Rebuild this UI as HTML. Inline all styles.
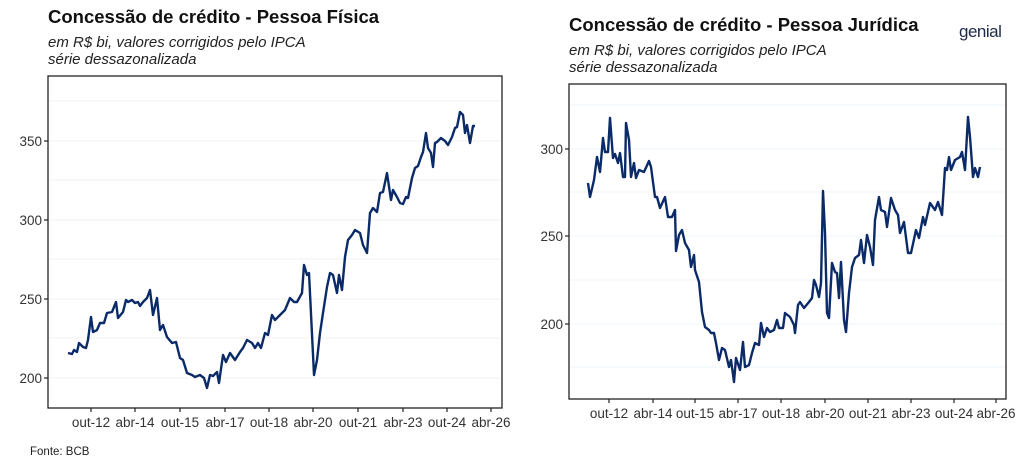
<!DOCTYPE html>
<html><head><meta charset="utf-8"><style>
body{margin:0;background:#fff;width:1024px;height:466px;overflow:hidden;font-family:"Liberation Sans",sans-serif}
svg text{font-family:"Liberation Sans",sans-serif}
</style></head><body>
<svg width="1024" height="466" viewBox="0 0 1024 466" xmlns="http://www.w3.org/2000/svg">
<rect width="1024" height="466" fill="#fff"/>
<!-- LEFT -->
<text x="48" y="23" font-size="18.5" font-weight="bold" fill="#111">Concessão de crédito - Pessoa Física</text>
<text x="48" y="47" font-size="15" font-style="italic" fill="#222">em R$ bi, valores corrigidos pelo IPCA</text>
<text x="48" y="64" font-size="15" font-style="italic" fill="#222">série dessazonalizada</text>
<g stroke="#f0f0f0" stroke-width="1">
<line x1="49" x2="501" y1="101" y2="101"/><line x1="49" x2="501" y1="180" y2="180"/><line x1="49" x2="501" y1="259" y2="259"/><line x1="49" x2="501" y1="338" y2="338"/>
<line x1="49" x2="501" y1="141" y2="141"/><line x1="49" x2="501" y1="220" y2="220"/><line x1="49" x2="501" y1="299" y2="299"/><line x1="49" x2="501" y1="378" y2="378"/>
</g>
<rect x="48" y="76" width="454" height="332" fill="none" stroke="#222" stroke-width="1.3"/>
<g stroke="#222" stroke-width="1.2">
<line x1="44" x2="48" y1="141" y2="141"/><line x1="44" x2="48" y1="220" y2="220"/><line x1="44" x2="48" y1="299" y2="299"/><line x1="44" x2="48" y1="378" y2="378"/>
<line x1="91" x2="91" y1="408" y2="412"/><line x1="135" x2="135" y1="408" y2="412"/><line x1="180" x2="180" y1="408" y2="412"/><line x1="225" x2="225" y1="408" y2="412"/><line x1="269" x2="269" y1="408" y2="412"/><line x1="313" x2="313" y1="408" y2="412"/><line x1="358" x2="358" y1="408" y2="412"/><line x1="403" x2="403" y1="408" y2="412"/><line x1="447" x2="447" y1="408" y2="412"/><line x1="491" x2="491" y1="408" y2="412"/>
</g>
<g font-size="13.5" fill="#333" text-anchor="end"><text x="42" y="146">350</text><text x="42" y="225">300</text><text x="42" y="304">250</text><text x="42" y="383">200</text></g>
<g font-size="13.5" fill="#333" text-anchor="middle"><text x="91" y="427">out-12</text><text x="135" y="427">abr-14</text><text x="180" y="427">out-15</text><text x="225" y="427">abr-17</text><text x="269" y="427">out-18</text><text x="313" y="427">abr-20</text><text x="358" y="427">out-21</text><text x="403" y="427">abr-23</text><text x="447" y="427">out-24</text><text x="491" y="427">abr-26</text></g>
<polyline fill="none" stroke="#0b2a68" stroke-width="2.4" stroke-linejoin="round" points="68,353 72,354 74,350 77,352 79,343 83,347 86,348 88,340 91,317 93,332 97,330 100,323 104,323 107,313 112,312 116,302 118,318 123,312 126,300 128,302 132,300 135,303 138,302 140,306 143,302 147,298 150,290 153,315 157,298 160,330 163,325 167,337 172,343 176,342 180,358 183,360 187,373 192,375 195,377 200,375 204,378 207,388 210,375 213,376 217,372 219,383 223,355 226,362 230,353 235,360 240,352 243,348 247,340 252,343 255,348 258,343 261,348 265,333 268,335 272,315 275,320 280,315 285,310 290,298 294,302 297,302 302,293 304,265 307,275 309,273 314,375 317,360 320,333 323,313 327,287 330,273 333,275 337,293 339,275 342,290 345,257 348,240 352,235 355,230 360,233 363,245 367,253 370,213 373,208 377,212 380,193 383,192 387,173 391,200 393,190 397,197 400,203 403,204 406,197 408,198 412,178 415,168 418,166 421,157 423,152 426,133 428,148 431,153 433,167 435,143 437,142 441,138 445,141 448,145 452,137 455,128 457,127 460,112 463,115 465,133 467,125 470,143 473,126 475,126"/>
<text x="30" y="455" font-size="11.5" fill="#222">Fonte: BCB</text>
<!-- RIGHT -->
<text x="569" y="31" font-size="18.5" font-weight="bold" fill="#111">Concessão de crédito - Pessoa Jurídica</text>
<text x="569" y="55" font-size="15" font-style="italic" fill="#222">em R$ bi, valores corrigidos pelo IPCA</text>
<text x="569" y="72" font-size="15" font-style="italic" fill="#222">série dessazonalizada</text>
<text x="959" y="37" font-size="17" fill="#1d2a4a" letter-spacing="-0.5">genial</text>
<g stroke="#eef4fb" stroke-width="1">
<line x1="570" x2="1005" y1="105" y2="105"/><line x1="570" x2="1005" y1="192" y2="192"/><line x1="570" x2="1005" y1="280" y2="280"/><line x1="570" x2="1005" y1="367" y2="367"/>
<line x1="570" x2="1005" y1="149" y2="149"/><line x1="570" x2="1005" y1="236" y2="236"/><line x1="570" x2="1005" y1="324" y2="324"/>
</g>
<rect x="569" y="84" width="437" height="315" fill="none" stroke="#222" stroke-width="1.3"/>
<g stroke="#222" stroke-width="1.2">
<line x1="565" x2="569" y1="149" y2="149"/><line x1="565" x2="569" y1="236" y2="236"/><line x1="565" x2="569" y1="324" y2="324"/>
<line x1="609" x2="609" y1="399" y2="403"/><line x1="653" x2="653" y1="399" y2="403"/><line x1="695" x2="695" y1="399" y2="403"/><line x1="738" x2="738" y1="399" y2="403"/><line x1="781" x2="781" y1="399" y2="403"/><line x1="825" x2="825" y1="399" y2="403"/><line x1="868" x2="868" y1="399" y2="403"/><line x1="911" x2="911" y1="399" y2="403"/><line x1="954" x2="954" y1="399" y2="403"/><line x1="996" x2="996" y1="399" y2="403"/>
</g>
<g font-size="13.5" fill="#333" text-anchor="end"><text x="563" y="154">300</text><text x="563" y="241">250</text><text x="563" y="329">200</text></g>
<g font-size="13.5" fill="#333" text-anchor="middle"><text x="609" y="418">out-12</text><text x="653" y="418">abr-14</text><text x="695" y="418">out-15</text><text x="738" y="418">abr-17</text><text x="781" y="418">out-18</text><text x="825" y="418">abr-20</text><text x="868" y="418">out-21</text><text x="911" y="418">abr-23</text><text x="954" y="418">out-24</text><text x="996" y="418">abr-26</text></g>
<polyline fill="none" stroke="#0b2a68" stroke-width="2.4" stroke-linejoin="round" points="588,183 590,197 594,180 597,157 600,172 603,138 605,152 608,152 610,118 613,158 615,154 618,163 620,153 623,177 625,177 626,123 629,140 631,177 634,163 636,178 639,170 644,172 649,161 651,167 655,197 657,197 660,208 665,197 668,217 672,217 675,210 676,251 679,235 682,230 685,243 689,250 691,267 694,255 695,270 699,282 702,312 705,327 709,330 711,333 714,333 716,343 719,360 722,348 725,350 729,367 731,360 734,382 736,358 740,370 743,342 745,367 749,365 752,353 755,343 759,345 761,323 764,337 767,328 770,332 774,330 777,320 779,328 783,328 785,313 790,317 794,325 795,333 798,305 800,302 804,308 809,302 812,298 814,280 816,285 819,297 821,283 823,191 825,233 827,313 829,318 832,263 835,272 837,273 839,298 841,262 844,320 846,332 849,293 852,267 855,258 859,255 861,240 864,263 867,235 870,247 873,265 875,220 879,197 881,210 885,212 887,227 891,198 895,210 898,215 900,233 904,222 908,253 911,253 916,230 919,238 923,217 925,225 930,203 935,210 938,202 942,215 945,168 947,170 949,157 951,170 955,160 960,157 962,152 965,170 968,117 970,137 973,177 975,168 978,177 980,167"/>
</svg>
</body></html>
